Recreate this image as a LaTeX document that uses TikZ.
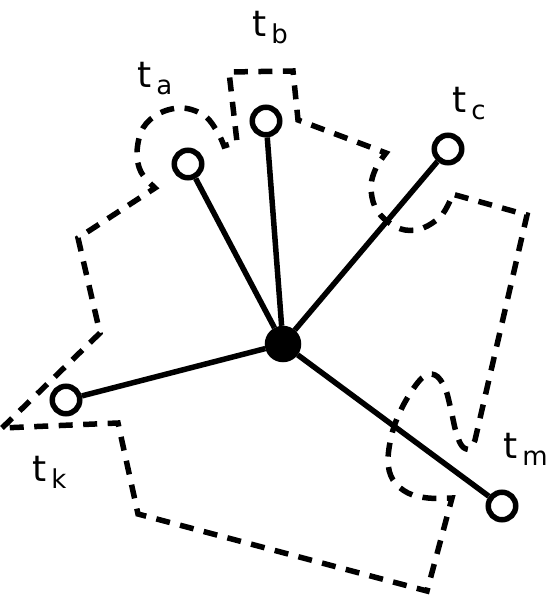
\documentclass[tikz,border=0pt]{standalone}
\usepackage{fontspec}
\setmainfont{DejaVu Sans}
\newcommand{\tlab}[1]{\fontsize{36}{36}\selectfont t\kern5pt\raisebox{-7pt}{\fontsize{26}{26}\selectfont #1}}
\begin{document}
\begin{tikzpicture}[x=1pt,y=-1pt,
  hole/.style={circle,draw,line width=5.5pt,minimum size=27.5pt,inner sep=0pt,fill=white},
  hubdot/.style={circle,draw,fill,line width=5.5pt,minimum size=31pt,inner sep=0pt},
  spoke/.style={line width=5.5pt},
  boundary/.style={line width=5.5pt,dash pattern=on 14pt off 10.5pt,line join=miter},
  lab/.style={inner sep=0pt,anchor=base west}]
\useasboundingbox (0,0) rectangle (555,596);
% dashed region boundary
\draw[boundary] (2,428) -- (100,333) -- (78,238) -- (155,188)
  -- plot[smooth,tension=0.6] coordinates {(155,188) (141,172) (137,152) (143,128) (160,113) (183,108) (205,116) (218,133) (224,146)}
  -- (237,142) -- (229,72) -- (293,71) -- (298,120) -- (386,153)
  -- plot[smooth,tension=0.6] coordinates {(386,153) (376,168) (371,186) (375,207) (388,222) (405,230) (423,228) (440,217) (449,203) (452,194)}
  -- (527,215) -- (475,440)
  -- plot[smooth,tension=0.6] coordinates {(475,440) (470,449) (462,446) (456,432) (451,410) (445,388) (435,375) (422,378) (405,402) (393,430) (388,460) (393,480) (408,493) (428,498) (452,498)}
  -- (427,591) -- (138,514) -- (118,423) -- cycle;
% nodes
\node[hubdot] (h) at (283,344) {};
\node[hole] (a) at (188,164) {};
\node[hole] (b) at (266,121) {};
\node[hole] (c) at (448,149) {};
\node[hole] (k) at (66,400) {};
\node[hole] (m) at (502,506) {};
% spokes
\foreach \n in {a,b,c,k,m} \draw[spoke] (h) -- (\n);
% labels
\node[lab] (la) at (137,88) {\tlab{a}};
\node[lab] (lb) at (252,37) {\tlab{b}};
\node[lab] (lc) at (452,113) {\tlab{c}};
\node[lab] (lk) at (32,481) {\tlab{k}};
\node[lab] (lm) at (503,458) {\tlab{m}};
\end{tikzpicture}
\end{document}
